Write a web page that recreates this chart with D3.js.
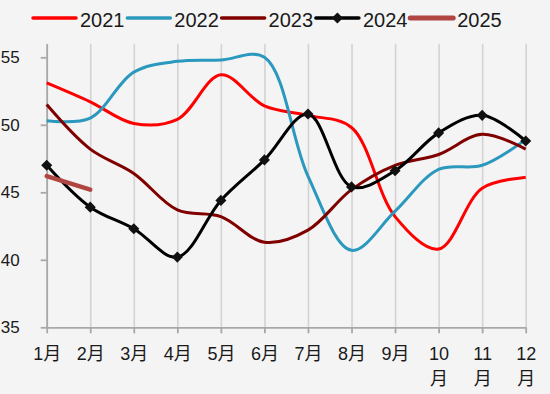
<!DOCTYPE html>
<html>
<head>
<meta charset="utf-8">
<script src="https://cdn.jsdelivr.net/npm/d3@7/dist/d3.min.js"></script>
<style>
  html, body { margin: 0; padding: 0; background: #f4f4f4; }
  svg { display: block; }
</style>
</head>
<body>
<svg id="chart" width="550" height="394"></svg>
<script>
const months = ["1月","2月","3月","4月","5月","6月","7月","8月","9月","10月","11月","12月"];
const yTicks = [35, 40, 45, 50, 55];
const seriesNames = ["2021","2022","2023","2024","2025"];
const v2021 = [53.1, 51.7, 50.1, 50.4, 53.7, 51.4, 50.7, 49.8, 43.2, 40.8, 45.3, 46.1];
const v2022 = [50.3, 50.5, 53.9, 54.7, 54.8, 55.0, 46.2, 40.7, 43.6, 46.7, 47.0, 48.9];
const v2023 = [51.5, 48.2, 46.4, 43.7, 43.2, 41.3, 42.2, 45.2, 47.0, 47.8, 49.3, 48.2];
const v2024 = [47.0, 43.9, 42.3, 40.2, 44.4, 47.4, 50.8, 45.4, 46.6, 49.4, 50.7, 48.8];
const v2025 = [46.2, 45.2];

const colors = ["#ff0000", "#2b98be", "#800000", "#000000", "#b04542"];
const widths = [3, 3, 3, 3, 4.5];
const allValues = [v2021, v2022, v2023, v2024, v2025];

const svg = d3.select("#chart");
const x = d3.scalePoint().domain(months).range([46.7, 525.7]).padding(0);
const y = d3.scaleLinear().domain([35, 56]).range([327.3, 43.8]);

// vertical gridlines
svg.append("g")
  .attr("transform", "translate(0,327.3)")
  .call(d3.axisBottom(x).tickSize(-(327.3 - 43.8)).tickFormat(""))
  .call(g => g.select(".domain").remove())
  .call(g => g.selectAll("line").attr("stroke", "#d3d3d3").attr("stroke-width", 1.6));

// y axis
const yAxis = svg.append("g")
  .attr("transform", "translate(46.7,0)")
  .call(d3.axisLeft(y).tickValues(yTicks).tickSize(6).tickPadding(21).tickSizeOuter(0));
yAxis.select(".domain").attr("stroke", "#a8a8a8").attr("stroke-width", 1.8);
yAxis.selectAll("line").attr("stroke", "#a8a8a8").attr("stroke-width", 1.8);
yAxis.selectAll("text")
  .attr("font-family", "'Liberation Sans', Arial, sans-serif")
  .attr("font-size", 17).attr("fill", "#1a1a1a");

// x axis
const xAxis = svg.append("g")
  .attr("transform", "translate(0,327.3)")
  .call(d3.axisBottom(x).tickSize(6).tickSizeOuter(0).tickFormat(""));
xAxis.select(".domain").attr("stroke", "#a8a8a8").attr("stroke-width", 1.8);
xAxis.selectAll("line").attr("stroke", "#a8a8a8").attr("stroke-width", 1.8);
xAxis.selectAll(".tick").each(function(d) {
  const t = d3.select(this).append("text")
    .attr("fill", "#1a1a1a")
    .attr("font-family", "'Liberation Sans', 'Noto Sans CJK SC', sans-serif")
    .attr("font-size", 18)
    .attr("text-anchor", "middle");
  const num = d.replace("月", "");
  if (num.length > 1) {
    t.append("tspan").attr("x", 0).attr("y", 32.5).text(num);
    t.append("tspan").attr("x", 0).attr("y", 58).attr("font-family", "'Noto Sans CJK SC', sans-serif").text("月");
  } else {
    t.append("tspan").attr("y", 32.5).text(num);
    t.append("tspan").attr("font-family", "'Noto Sans CJK SC', sans-serif").text("月");
  }
});

// lines
const line = d3.line()
  .x((d, i) => x(months[i]))
  .y(d => y(d))
  .curve(d3.curveCatmullRom.alpha(0.5));
const straight = d3.line()
  .x((d, i) => x(months[i]))
  .y(d => y(d));

[0, 1, 2, 3, 4].forEach(k => {
  svg.append("path")
    .datum(allValues[k])
    .attr("fill", "none")
    .attr("stroke", colors[k])
    .attr("stroke-width", widths[k])
    .attr("stroke-linejoin", "round")
    .attr("stroke-linecap", k === 4 ? "round" : "butt")
    .attr("d", k === 4 ? straight : line);
});

// diamonds for 2024
const diamond = d3.symbol().type(d3.symbolDiamond2).size(78);
svg.append("g").selectAll("path")
  .data(v2024)
  .join("path")
  .attr("transform", (d, i) => `translate(${x(months[i])},${y(d)})`)
  .attr("d", diamond)
  .attr("fill", "#111");

// legend
const legend = svg.append("g");
seriesNames.forEach((name, i) => {
  const lx = 33 + i * 94.3;
  const g = legend.append("g").attr("transform", `translate(${lx},18)`);
  g.append("line").attr("x1", 0).attr("x2", 43).attr("y1", 0).attr("y2", 0)
    .attr("stroke", colors[i]).attr("stroke-width", widths[i] + 0.5)
    .attr("stroke-linecap", "round");
  if (i === 3) {
    g.append("path").attr("transform", "translate(21.5,0)")
      .attr("d", diamond).attr("fill", "#111");
  }
  g.append("text").attr("x", 47).attr("y", 8.5)
    .attr("font-family", "'Liberation Sans Narrow', 'Arial Narrow', sans-serif")
    .attr("font-size", 20).attr("fill", "#1a1a1a")
    .text(name);
});
</script>
</body>
</html>
